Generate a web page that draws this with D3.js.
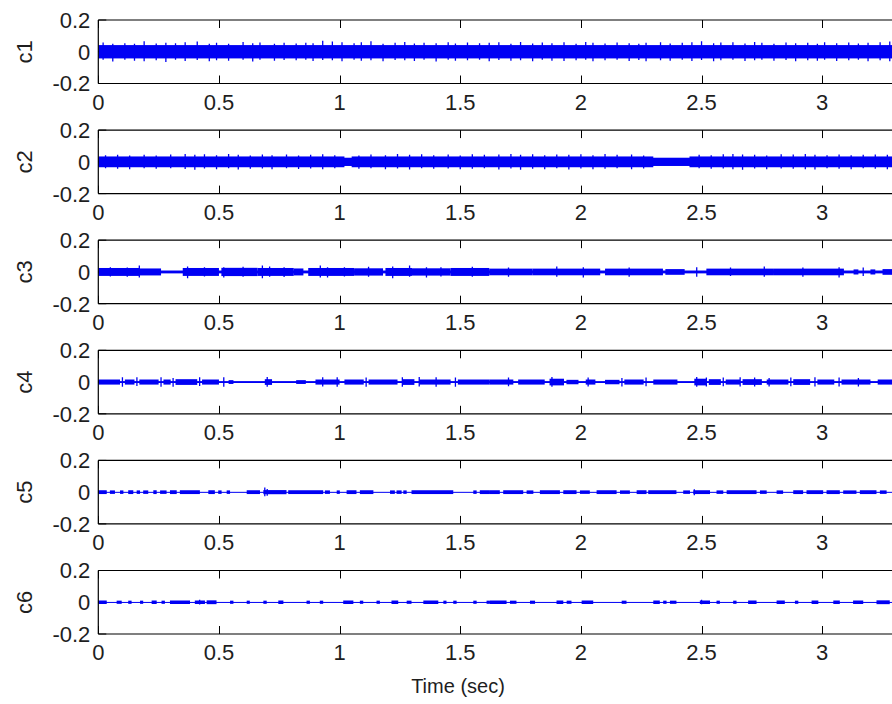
<!DOCTYPE html>
<html>
<head>
<meta charset="utf-8">
<script src="https://cdn.jsdelivr.net/npm/d3@7"></script>
<style>
  html, body { margin: 0; padding: 0; background: #fff; }
  svg { display: block; }
  text { font-family: "Liberation Sans", Arial, Helvetica, sans-serif; fill: #1e1e1e; }
</style>
</head>
<body>
<svg id="chart" width="892" height="704"></svg>
<script>
// ---- data -------------------------------------------------------------
const channels   = ["c1", "c2", "c3", "c4", "c5", "c6"];
const xTicks     = [0, 0.5, 1, 1.5, 2, 2.5, 3];
const xTickText  = ["0", "0.5", "1", "1.5", "2", "2.5", "3"];
const yTicks     = [-0.2, 0, 0.2];
const yTickText  = ["-0.2", "0", "0.2"];
const signalEnd  = 3.3;   // seconds of recorded signal

// half-width of the always-present band around zero for each channel
const baseAmp = [0.042, 0.026, 0.009, 0.006, 0.002, 0.002];

// denser stretches: [start (s), end (s), half-width]
const c1Bursts = [];
const c2Bursts = [
  [0.00, 1.02, 0.034], [1.05, 2.30, 0.034], [2.45, 3.30, 0.034]
];
const c3Bursts = [
  [0.00, 0.17, 0.025], [0.17, 0.26, 0.022], [0.35, 0.50, 0.025], [0.51, 0.66, 0.026],
  [0.66, 0.81, 0.025], [0.81, 0.85, 0.022], [0.87, 1.06, 0.025], [1.06, 1.18, 0.023],
  [1.19, 1.30, 0.025], [1.30, 1.46, 0.023], [1.46, 1.62, 0.025], [1.62, 1.80, 0.021],
  [1.80, 2.08, 0.021], [2.10, 2.34, 0.021], [2.35, 2.43, 0.018], [2.52, 2.80, 0.021],
  [2.80, 3.09, 0.021], [3.13, 3.15, 0.016], [3.20, 3.22, 0.016], [3.25, 3.30, 0.018]
];
const c4Bursts = [
  [0.00, 0.09, 0.016], [0.11, 0.15, 0.016], [0.17, 0.25, 0.016], [0.27, 0.30, 0.016],
  [0.32, 0.41, 0.018], [0.43, 0.50, 0.016], [0.54, 0.56, 0.012], [0.69, 0.72, 0.018],
  [0.82, 0.86, 0.012], [0.90, 1.00, 0.016], [1.02, 1.10, 0.016], [1.12, 1.24, 0.016],
  [1.26, 1.31, 0.018], [1.33, 1.46, 0.016], [1.49, 1.62, 0.016], [1.62, 1.72, 0.016],
  [1.74, 1.85, 0.016], [1.87, 1.93, 0.021], [1.94, 1.99, 0.014], [2.02, 2.06, 0.016],
  [2.10, 2.16, 0.014], [2.18, 2.26, 0.016], [2.30, 2.40, 0.016], [2.47, 2.52, 0.021],
  [2.53, 2.58, 0.018], [2.60, 2.66, 0.016], [2.67, 2.75, 0.018], [2.77, 2.86, 0.016],
  [2.88, 2.95, 0.018], [2.98, 3.05, 0.016], [3.08, 3.20, 0.016], [3.23, 3.30, 0.016]
];
const c5Bursts = [
  [0.000, 0.035, 0.012], [0.048, 0.069, 0.011], [0.090, 0.104, 0.011], [0.124, 0.145, 0.012],
  [0.159, 0.173, 0.011], [0.186, 0.207, 0.011], [0.228, 0.242, 0.012], [0.256, 0.283, 0.011],
  [0.297, 0.325, 0.012], [0.338, 0.421, 0.012], [0.456, 0.483, 0.012], [0.497, 0.511, 0.011],
  [0.532, 0.546, 0.011], [0.615, 0.670, 0.012], [0.684, 0.780, 0.013], [0.787, 0.932, 0.012],
  [0.939, 0.960, 0.011], [0.988, 1.001, 0.011], [1.029, 1.070, 0.012], [1.084, 1.140, 0.012],
  [1.209, 1.229, 0.011], [1.236, 1.257, 0.011], [1.264, 1.278, 0.011], [1.298, 1.471, 0.012],
  [1.554, 1.568, 0.011], [1.581, 1.623, 0.012], [1.623, 1.664, 0.012], [1.678, 1.761, 0.012],
  [1.775, 1.803, 0.011], [1.830, 1.913, 0.012], [1.927, 1.982, 0.012], [1.996, 2.037, 0.011],
  [2.065, 2.148, 0.012], [2.162, 2.203, 0.011], [2.231, 2.272, 0.012], [2.279, 2.396, 0.012],
  [2.424, 2.452, 0.011], [2.466, 2.535, 0.012], [2.562, 2.590, 0.011], [2.604, 2.728, 0.012],
  [2.742, 2.770, 0.011], [2.811, 2.838, 0.011], [2.880, 2.921, 0.012], [2.935, 3.004, 0.012],
  [3.018, 3.073, 0.012], [3.087, 3.142, 0.011], [3.156, 3.225, 0.012], [3.239, 3.267, 0.011]
];
const c6Bursts = [
  [0.000, 0.035, 0.011], [0.076, 0.097, 0.010], [0.124, 0.138, 0.010], [0.173, 0.186, 0.010],
  [0.221, 0.242, 0.011], [0.262, 0.276, 0.010], [0.297, 0.380, 0.011], [0.400, 0.442, 0.011],
  [0.449, 0.490, 0.012], [0.546, 0.560, 0.010], [0.615, 0.628, 0.010], [0.684, 0.698, 0.010],
  [0.746, 0.767, 0.011], [0.863, 0.877, 0.010], [0.918, 0.932, 0.010], [1.015, 1.057, 0.011],
  [1.084, 1.098, 0.010], [1.153, 1.167, 0.010], [1.215, 1.243, 0.011], [1.278, 1.298, 0.010],
  [1.347, 1.409, 0.011], [1.430, 1.443, 0.010], [1.471, 1.485, 0.010], [1.554, 1.568, 0.010],
  [1.609, 1.623, 0.010], [1.623, 1.692, 0.011], [1.706, 1.733, 0.010], [1.789, 1.810, 0.010],
  [1.899, 1.927, 0.011], [1.941, 1.961, 0.010], [2.003, 2.051, 0.011], [2.169, 2.189, 0.010],
  [2.300, 2.327, 0.011], [2.341, 2.355, 0.010], [2.369, 2.396, 0.010], [2.493, 2.535, 0.011],
  [2.562, 2.576, 0.010], [2.631, 2.645, 0.010], [2.693, 2.728, 0.011], [2.811, 2.845, 0.011],
  [2.887, 2.901, 0.010], [2.956, 2.984, 0.011], [3.046, 3.073, 0.011], [3.128, 3.170, 0.011],
  [3.225, 3.280, 0.012]
];

// isolated peaks: [time (s), upper excursion, lower excursion]
const c1Spikes = [
  [0.02, 0.058, 0.050], [0.06, 0.050, 0.062], [0.11, 0.054, 0.050], [0.15, 0.050, 0.056],
  [0.19, 0.066, 0.060], [0.24, 0.052, 0.054], [0.28, 0.056, 0.064], [0.32, 0.054, 0.050],
  [0.36, 0.060, 0.058], [0.41, 0.064, 0.052], [0.46, 0.050, 0.060], [0.49, 0.056, 0.054],
  [0.54, 0.050, 0.056], [0.60, 0.062, 0.050], [0.64, 0.054, 0.062], [0.67, 0.058, 0.050],
  [0.73, 0.050, 0.056], [0.77, 0.056, 0.052], [0.82, 0.052, 0.054], [0.86, 0.056, 0.050],
  [0.89, 0.054, 0.058], [0.93, 0.070, 0.052], [0.97, 0.064, 0.054], [1.01, 0.060, 0.060],
  [1.06, 0.054, 0.050], [1.09, 0.060, 0.056], [1.13, 0.066, 0.054], [1.18, 0.050, 0.060],
  [1.23, 0.056, 0.052], [1.27, 0.062, 0.054], [1.31, 0.052, 0.058], [1.35, 0.056, 0.050],
  [1.40, 0.054, 0.062], [1.45, 0.060, 0.050], [1.48, 0.052, 0.056], [1.53, 0.058, 0.054],
  [1.58, 0.054, 0.050], [1.62, 0.056, 0.060], [1.66, 0.060, 0.052], [1.71, 0.050, 0.056],
  [1.75, 0.062, 0.054], [1.80, 0.052, 0.060], [1.84, 0.058, 0.050], [1.88, 0.054, 0.056],
  [1.93, 0.060, 0.058], [1.98, 0.050, 0.054], [2.02, 0.062, 0.050], [2.05, 0.056, 0.060],
  [2.10, 0.052, 0.054], [2.15, 0.058, 0.050], [2.20, 0.054, 0.058], [2.24, 0.050, 0.052],
  [2.27, 0.056, 0.060], [2.33, 0.060, 0.054], [2.37, 0.052, 0.056], [2.42, 0.056, 0.050],
  [2.46, 0.060, 0.058], [2.50, 0.066, 0.052], [2.55, 0.054, 0.060], [2.58, 0.058, 0.054],
  [2.63, 0.060, 0.050], [2.68, 0.052, 0.058], [2.72, 0.062, 0.054], [2.75, 0.056, 0.050],
  [2.80, 0.050, 0.056], [2.85, 0.058, 0.052], [2.89, 0.054, 0.060], [2.94, 0.056, 0.054],
  [2.98, 0.050, 0.056], [3.01, 0.060, 0.050], [3.06, 0.054, 0.058], [3.11, 0.058, 0.054],
  [3.15, 0.052, 0.050], [3.19, 0.056, 0.060], [3.24, 0.060, 0.054], [3.28, 0.065, 0.060]
];
const c2Spikes = [
  [0.03, 0.042, 0.040], [0.08, 0.045, 0.044], [0.13, 0.040, 0.046], [0.19, 0.044, 0.040],
  [0.24, 0.040, 0.043], [0.30, 0.046, 0.040], [0.36, 0.050, 0.045], [0.40, 0.044, 0.050],
  [0.44, 0.048, 0.042], [0.49, 0.042, 0.046], [0.54, 0.050, 0.040], [0.58, 0.044, 0.048],
  [0.63, 0.040, 0.044], [0.68, 0.046, 0.042], [0.72, 0.042, 0.046], [0.78, 0.046, 0.040],
  [0.83, 0.040, 0.045], [0.88, 0.044, 0.042], [0.93, 0.048, 0.046], [0.98, 0.042, 0.040],
  [1.08, 0.040, 0.044], [1.13, 0.046, 0.040], [1.19, 0.042, 0.046], [1.24, 0.050, 0.042],
  [1.29, 0.044, 0.048], [1.34, 0.048, 0.040], [1.39, 0.042, 0.044], [1.45, 0.046, 0.042],
  [1.50, 0.040, 0.046], [1.55, 0.048, 0.044], [1.60, 0.044, 0.040], [1.66, 0.046, 0.048],
  [1.71, 0.050, 0.042], [1.75, 0.044, 0.050], [1.80, 0.048, 0.044], [1.85, 0.042, 0.046],
  [1.90, 0.046, 0.040], [1.95, 0.044, 0.048], [2.00, 0.048, 0.042], [2.05, 0.042, 0.046],
  [2.10, 0.050, 0.044], [2.15, 0.044, 0.040], [2.21, 0.046, 0.046], [2.26, 0.040, 0.042],
  [2.49, 0.044, 0.040], [2.54, 0.042, 0.044], [2.59, 0.048, 0.042], [2.63, 0.050, 0.046],
  [2.67, 0.046, 0.050], [2.72, 0.044, 0.042], [2.77, 0.040, 0.046], [2.83, 0.048, 0.042],
  [2.88, 0.046, 0.044], [2.93, 0.050, 0.046], [2.97, 0.044, 0.048], [3.02, 0.042, 0.040],
  [3.07, 0.046, 0.044], [3.12, 0.042, 0.046], [3.17, 0.044, 0.040], [3.22, 0.046, 0.044],
  [3.27, 0.044, 0.046]
];
const c3Spikes = [
  [0.05, 0.030, 0.028], [0.12, 0.028, 0.030], [0.17, 0.040, 0.035], [0.37, 0.035, 0.040],
  [0.44, 0.030, 0.028], [0.52, 0.030, 0.035], [0.60, 0.032, 0.030], [0.68, 0.040, 0.040],
  [0.71, 0.035, 0.030], [0.77, 0.030, 0.032], [0.92, 0.040, 0.035], [0.95, 0.030, 0.035],
  [1.02, 0.030, 0.028], [1.12, 0.032, 0.030], [1.22, 0.035, 0.040], [1.29, 0.040, 0.030],
  [1.36, 0.030, 0.035], [1.42, 0.030, 0.028], [1.55, 0.032, 0.030], [1.70, 0.028, 0.030],
  [1.90, 0.035, 0.030], [2.01, 0.030, 0.035], [2.20, 0.028, 0.030], [2.48, 0.030, 0.030],
  [2.62, 0.028, 0.026], [2.76, 0.035, 0.030], [2.92, 0.028, 0.030], [3.07, 0.030, 0.035],
  [3.17, 0.028, 0.026]
];
const c4Spikes = [
  [0.10, 0.030, 0.030], [0.16, 0.030, 0.025], [0.26, 0.030, 0.030], [0.31, 0.025, 0.030],
  [0.42, 0.030, 0.025], [0.52, 0.030, 0.030], [0.70, 0.032, 0.030], [0.93, 0.030, 0.028],
  [0.99, 0.030, 0.030], [1.11, 0.028, 0.030], [1.26, 0.030, 0.030], [1.33, 0.032, 0.028],
  [1.40, 0.030, 0.030], [1.48, 0.028, 0.030], [1.70, 0.028, 0.026], [1.88, 0.032, 0.030],
  [2.03, 0.028, 0.028], [2.17, 0.026, 0.028], [2.27, 0.028, 0.026], [2.48, 0.032, 0.030],
  [2.52, 0.028, 0.028], [2.59, 0.028, 0.026], [2.66, 0.030, 0.028], [2.72, 0.028, 0.028],
  [2.78, 0.026, 0.028], [2.87, 0.028, 0.026], [2.97, 0.030, 0.028], [3.07, 0.028, 0.028],
  [3.15, 0.026, 0.028]
];
const c5Spikes = [
  [0.690, 0.030, 0.026], [0.700, 0.020, 0.022], [2.470, 0.018, 0.020]
];
const c6Spikes = [
  [0.420, 0.016, 0.014], [2.500, 0.016, 0.012]
];

const bursts = [c1Bursts, c2Bursts, c3Bursts, c4Bursts, c5Bursts, c6Bursts];
const spikes = [c1Spikes, c2Spikes, c3Spikes, c4Spikes, c5Spikes, c6Spikes];

// ---- layout -----------------------------------------------------------
const W = 892, H = 704;
const plotLeft = 98.3, pxPerSec = 241.3, xMax = 3.5;
const panelTop0 = 20, panelStep = 110.1, panelH = 63.5;
const tickLen = 8;
const fontSize = 22;
const signalColor = "#0000f4";

const svg = d3.select("#chart");
svg.append("rect").attr("width", W).attr("height", H).attr("fill", "#fff");

const x = d3.scaleLinear()
  .domain([0, xMax])
  .range([plotLeft, plotLeft + xMax * pxPerSec]);

channels.forEach((name, i) => {
  const top = panelTop0 + i * panelStep;
  const y = d3.scaleLinear().domain([-0.2, 0.2]).range([top + panelH, top]);
  const g = svg.append("g").attr("class", "panel-" + name);

  const clipId = "clip-" + name;
  g.append("clipPath").attr("id", clipId)
    .append("rect")
    .attr("x", x(0)).attr("y", top)
    .attr("width", x(xMax) - x(0)).attr("height", panelH);

  // inward tick marks on the left (y) and on top / bottom (x)
  const ticks = g.append("g").attr("stroke", "#000").attr("stroke-width", 1);
  yTicks.forEach(v => {
    ticks.append("line")
      .attr("x1", x(0)).attr("x2", x(0) + tickLen)
      .attr("y1", y(v)).attr("y2", y(v));
  });
  xTicks.forEach(v => {
    ticks.append("line")
      .attr("x1", Math.round(x(v)) + 0.5).attr("x2", Math.round(x(v)) + 0.5)
      .attr("y1", y(0.2)).attr("y2", y(0.2) + tickLen);
    ticks.append("line")
      .attr("x1", Math.round(x(v)) + 0.5).attr("x2", Math.round(x(v)) + 0.5)
      .attr("y1", y(-0.2)).attr("y2", y(-0.2) - tickLen);
  });

  // signal
  const sig = g.append("g").attr("clip-path", "url(#" + clipId + ")");
  const b0 = baseAmp[i];
  sig.append("rect")
    .attr("x", x(0)).attr("width", x(signalEnd) - x(0))
    .attr("y", y(b0)).attr("height", Math.max(1, y(-b0) - y(b0)))
    .attr("fill", signalColor);
  sig.selectAll("rect.burst").data(bursts[i]).join("rect")
    .attr("class", "burst")
    .attr("x", d => x(d[0]))
    .attr("width", d => Math.max(1.5, x(d[1]) - x(d[0])))
    .attr("y", d => y(d[2]))
    .attr("height", d => y(-d[2]) - y(d[2]))
    .attr("fill", signalColor);
  sig.selectAll("line.spike").data(spikes[i]).join("line")
    .attr("class", "spike")
    .attr("x1", d => x(d[0])).attr("x2", d => x(d[0]))
    .attr("y1", d => y(d[1])).attr("y2", d => y(-d[2]))
    .attr("stroke", signalColor).attr("stroke-width", 1.3);

  // axes box (right side lies beyond the visible area)
  const box = g.append("g").attr("stroke", "#000").attr("stroke-width", 1.2).attr("fill", "none");
  box.append("line").attr("x1", x(0)).attr("x2", x(xMax)).attr("y1", y(0.2)).attr("y2", y(0.2));
  box.append("line").attr("x1", x(0)).attr("x2", x(xMax)).attr("y1", y(-0.2)).attr("y2", y(-0.2));
  box.append("line").attr("x1", x(0)).attr("x2", x(0)).attr("y1", y(0.2)).attr("y2", y(-0.2));

  // y tick labels
  g.selectAll("text.ytick").data(yTicks).join("text")
    .attr("class", "ytick")
    .attr("x", x(0) - 8)
    .attr("y", d => y(d))
    .attr("dy", "0.36em")
    .attr("text-anchor", "end")
    .attr("font-size", fontSize)
    .text((d, k) => yTickText[k]);

  // x tick labels
  g.selectAll("text.xtick").data(xTicks).join("text")
    .attr("class", "xtick")
    .attr("x", d => x(d))
    .attr("y", y(-0.2) + 26)
    .attr("text-anchor", "middle")
    .attr("font-size", fontSize)
    .text((d, k) => xTickText[k]);

  // channel name
  g.append("text")
    .attr("transform", `translate(32,${y(0)}) rotate(-90)`)
    .attr("text-anchor", "middle")
    .attr("font-size", fontSize)
    .text(name);
});

// x-axis title under the last panel
svg.append("text")
  .attr("x", 458)
  .attr("y", 693)
  .attr("text-anchor", "middle")
  .attr("font-size", 20)
  .text("Time (sec)");
</script>
</body>
</html>
